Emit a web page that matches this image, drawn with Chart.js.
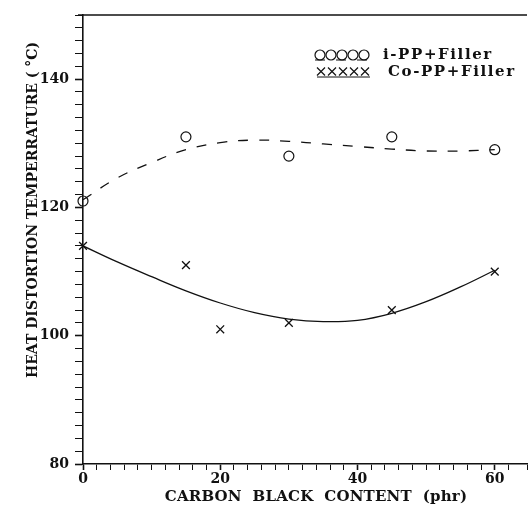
<!DOCTYPE html>
<html>
<head>
<meta charset="utf-8">
<script src="https://cdn.jsdelivr.net/npm/chart.js@4"></script>
<style>
  html, body { margin: 0; padding: 0; background: #fff; }
</style>
</head>
<body>
<canvas id="hdt" width="528" height="513"></canvas>
<script>
// measured points
const carbonBlack = [0, 15, 30, 45, 60];
const iPP = [121, 131, 128, 131, 129];
const coPPx = [0, 15, 20, 30, 45, 60];
const coPP = [114, 111, 101, 102, 104, 110];

// fitted curves, every 5 phr
const fitX = [0, 5, 10, 15, 20, 25, 30, 35, 40, 45, 50, 55, 60];
const iPPFit = [121.2, 124.6, 127, 129, 130.1, 130.5, 130.3, 129.9, 129.5, 129.1, 128.8, 128.8, 129];
const coPPFit = [114, 111.5, 109.2, 107, 105.1, 103.6, 102.6, 102.2, 102.4, 103.5, 105.3, 107.6, 110.2];

const seriesNames = ['i-PP+Filler', 'Co-PP+Filler'];
const xTitle = 'CARBON  BLACK  CONTENT  (phr)';
const yTitle = 'HEAT DISTORTION TEMPERRATURE ( \u00B0C)';

const ink = '#111';
const font = 'DejaVu Serif';

function pairs(xs, ys) {
  return xs.map((x, i) => ({ x: x, y: ys[i] }));
}

// top frame line, the hand drawn legend and both axis titles
const extras = {
  id: 'extras',
  afterDraw(chart) {
    const ctx = chart.ctx;
    const area = chart.chartArea;
    ctx.save();
    ctx.strokeStyle = ink;
    ctx.fillStyle = ink;

    ctx.lineWidth = 1.6;
    ctx.beginPath();
    ctx.moveTo(area.left - 5, area.top);
    ctx.lineTo(area.right, area.top);
    ctx.stroke();

    // legend: five markers with a bit of line under them
    ctx.lineWidth = 1.2;
    for (let i = 0; i < 5; i++) {
      ctx.beginPath();
      ctx.arc(320 + 11 * i, 55, 5, 0, Math.PI * 2);
      ctx.stroke();
      const cx = 321 + 11 * i, cy = 71.5;
      ctx.beginPath();
      ctx.moveTo(cx - 4, cy - 4); ctx.lineTo(cx + 4, cy + 4);
      ctx.moveTo(cx - 4, cy + 4); ctx.lineTo(cx + 4, cy - 4);
      ctx.stroke();
    }
    ctx.setLineDash([10, 11]);
    ctx.beginPath();
    ctx.moveTo(315, 60); ctx.lineTo(370, 60);
    ctx.stroke();
    ctx.setLineDash([]);
    ctx.beginPath();
    ctx.moveTo(317, 77); ctx.lineTo(370, 77);
    ctx.stroke();

    ctx.font = 'bold 15px "' + font + '"';
    ctx.letterSpacing = '1.6px';
    ctx.textBaseline = 'middle';
    ctx.textAlign = 'left';
    ctx.fillText(seriesNames[0], 383, 55);
    ctx.fillText(seriesNames[1], 388, 72);

    ctx.letterSpacing = '0.2px';
    ctx.textAlign = 'center';
    ctx.fillText(xTitle, 316, 497);

    ctx.font = 'bold 14px "' + font + '"';
    ctx.letterSpacing = '0px';
    ctx.translate(33, 210);
    ctx.rotate(-Math.PI / 2);
    ctx.fillText(yTitle, 0, 0);
    ctx.restore();
  }
};

new Chart(document.getElementById('hdt'), {
  type: 'scatter',
  data: {
    datasets: [
      {
        label: seriesNames[0],
        data: pairs(carbonBlack, iPP),
        pointStyle: 'circle',
        pointRadius: 5,
        borderColor: ink,
        backgroundColor: 'rgba(0,0,0,0)',
        borderWidth: 1.2,
        clip: false
      },
      {
        label: seriesNames[1],
        data: pairs(coPPx, coPP),
        pointStyle: 'crossRot',
        pointRadius: 5.5,
        borderColor: ink,
        borderWidth: 1.3,
        clip: false
      },
      {
        label: 'i-PP fit',
        data: pairs(fitX, iPPFit),
        showLine: true,
        pointRadius: 0,
        borderColor: ink,
        borderWidth: 1.3,
        borderDash: [10, 11],
        tension: 0.4
      },
      {
        label: 'Co-PP fit',
        data: pairs(fitX, coPPFit),
        showLine: true,
        pointRadius: 0,
        borderColor: ink,
        borderWidth: 1.3,
        tension: 0.4
      }
    ]
  },
  options: {
    responsive: false,
    animation: false,
    devicePixelRatio: 1,
    layout: { autoPadding: false, padding: { top: 15, right: 0, bottom: 0, left: 0 } },
    plugins: { legend: { display: false }, tooltip: { enabled: false } },
    scales: {
      x: {
        type: 'linear',
        min: 0,
        max: 64.7,
        afterFit: s => { s.height = 49; },
        border: { color: ink, width: 1.6 },
        grid: {
          drawOnChartArea: false,
          color: ink,
          tickLength: 6,
          tickWidth: c => (c.tick && c.tick.value % 20 === 0 ? 1.6 : 1)
        },
        ticks: {
          stepSize: 2,
          maxTicksLimit: 100,
          autoSkip: false,
          maxRotation: 0,
          padding: 1,
          color: ink,
          font: { family: font, size: 14, weight: 'bold' },
          callback: v => (v % 20 === 0 ? v : '')
        }
      },
      y: {
        min: 80,
        max: 150,
        afterFit: s => { s.width = 83; },
        border: { color: ink, width: 1.6 },
        grid: {
          drawOnChartArea: false,
          color: ink,
          tickLength: 8,
          tickWidth: c => (c.tick && c.tick.value % 20 === 0 ? 1.6 : 1)
        },
        ticks: {
          stepSize: 2,
          maxTicksLimit: 100,
          autoSkip: false,
          padding: 6,
          color: ink,
          font: { family: font, size: 14, weight: 'bold' },
          callback: v => (v % 20 === 0 ? v : '')
        }
      }
    }
  },
  plugins: [extras]
});
</script>
</body>
</html>
